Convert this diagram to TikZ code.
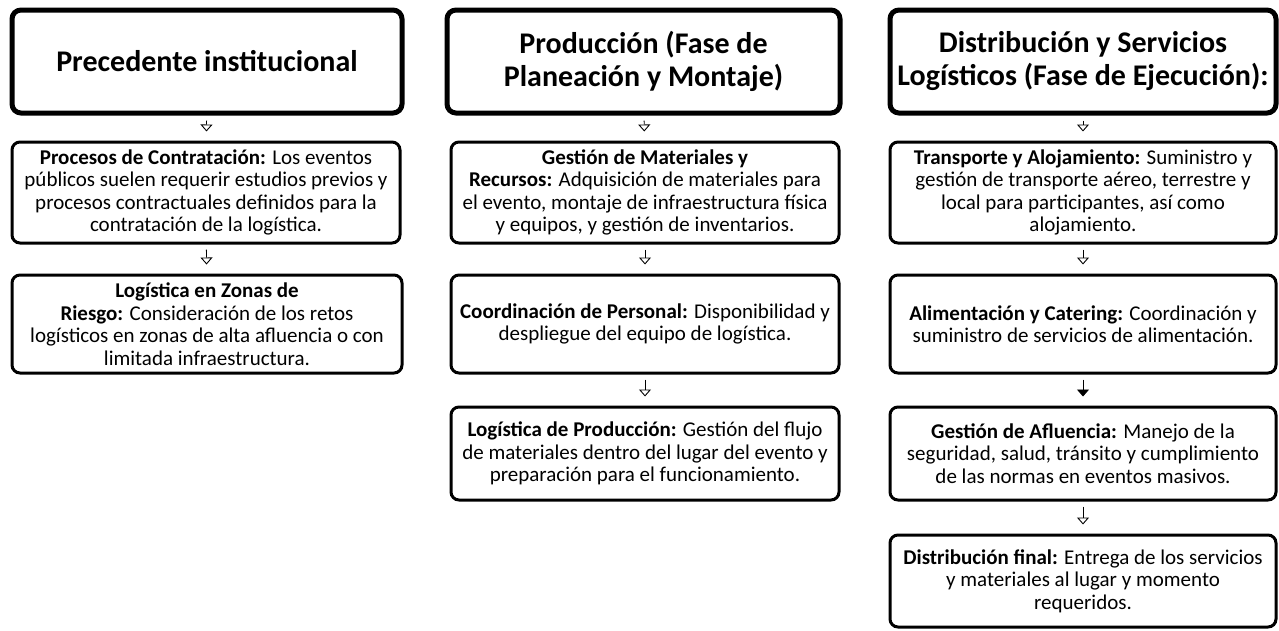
\documentclass[tikz,border=0pt]{standalone}
\usepackage{fontspec}
\setmainfont{Carlito}
\usetikzlibrary{arrows.meta}
\begin{document}
\begin{tikzpicture}[x=1pt,y=-1pt]
\useasboundingbox (0,0) rectangle (1279,630);
 \tikzstyle{fase}=[draw,rounded corners=9pt,line width=5pt,align=center,inner sep=0pt,
   font=\fontsize{30}{33}\selectfont\bfseries];
 \tikzstyle{tarea}=[draw,rounded corners=8pt,line width=3pt,align=center,inner sep=0pt,
   font=\fontsize{21}{22.5}\selectfont];
 \tikzstyle{flecha}=[line width=0.9pt,-{Triangle[open,length=7pt,width=12pt]},
   shorten <=5pt,shorten >=9pt];
% fases
\node [fase,minimum width=390,minimum height=103] (h1) at (207,61.5) {Precedente institucional};
\node [fase,minimum width=393,minimum height=103] (h2) at (643.5,61.5) {Producción (Fase de\\Planeación y Montaje)};
\node [fase,minimum width=386,minimum height=103] (h3) at (1083,61.5) {Distribución y Servicios\\Logísticos (Fase de Ejecución):};
% precedente
\node [tarea,minimum width=388,minimum height=101] (p1) at (206,192.5) {\textbf{Procesos de Contratación:} Los eventos\\públicos suelen requerir estudios previos y\\procesos contractuales definidos para la\\contratación de la logística.};
\node [tarea,minimum width=390,minimum height=98] (p2) at (207,324) {\textbf{Logística en Zonas de}\\\textbf{Riesgo:} Consideración de los retos\\logísticos en zonas de alta afluencia o con\\limitada infraestructura.};
% produccion
\node [tarea,minimum width=388,minimum height=101] (m1) at (645,192.5) {\textbf{Gestión de Materiales y}\\\textbf{Recursos:} Adquisición de materiales para\\el evento, montaje de infraestructura física\\y equipos, y gestión de inventarios.};
\node [tarea,minimum width=388,minimum height=98] (m2) at (645,324) {\textbf{Coordinación de Personal:} Disponibilidad y\\despliegue del equipo de logística.};
\node [tarea,minimum width=388,minimum height=93] (m3) at (645,453.5) {\textbf{Logística de Producción:} Gestión del flujo\\de materiales dentro del lugar del evento y\\preparación para el funcionamiento.};
% distribucion
\node [tarea,minimum width=386,minimum height=101] (d1) at (1083,192.5) {\textbf{Transporte y Alojamiento:} Suministro y\\gestión de transporte aéreo, terrestre y\\local para participantes, así como\\alojamiento.};
\node [tarea,minimum width=386,minimum height=98] (d2) at (1083,324) {\textbf{Alimentación y Catering:} Coordinación y\\suministro de servicios de alimentación.};
\node [tarea,minimum width=386,minimum height=93] (d3) at (1083,453.5) {\textbf{Gestión de Afluencia:} Manejo de la\\seguridad, salud, tránsito y cumplimiento\\de las normas en eventos masivos.};
\node [tarea,minimum width=386,minimum height=92] (d4) at (1083,581) {\textbf{Distribución final:} Entrega de los servicios\\y materiales al lugar y momento\\requeridos.};
\foreach \a/\b in {h1/p1,p1/p2,h2/m1,m1/m2,m2/m3,h3/d1,d1/d2,d3/d4} {
    \draw [flecha] (\a) -- (\b);
  }
\draw [flecha,-{Triangle[length=7pt,width=12pt]}] (d2) -- (d3);
\end{tikzpicture}
\end{document}
